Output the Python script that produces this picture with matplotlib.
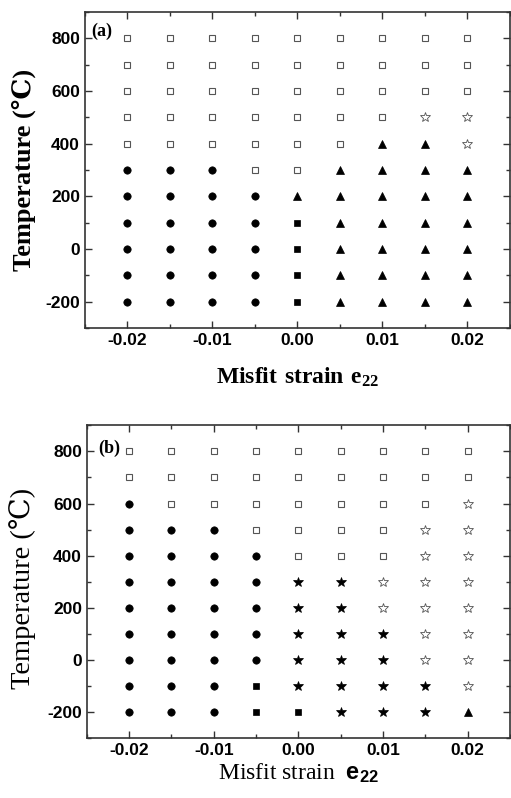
import numpy as np
import matplotlib
matplotlib.use("Agg")
import matplotlib.pyplot as plt
from matplotlib.ticker import MultipleLocator

plt.rcParams["mathtext.fontset"] = "custom"
plt.rcParams["mathtext.bf"] = "Liberation Serif:bold"
plt.rcParams["mathtext.rm"] = "Liberation Serif"
plt.rcParams["mathtext.sf"] = "Liberation Sans:bold"
plt.rcParams["axes.unicode_minus"] = False

# misfit strain columns and temperature rows
strain = [-0.02, -0.015, -0.01, -0.005, 0.0, 0.005, 0.01, 0.015, 0.02]
temps = [800, 700, 600, 500, 400, 300, 200, 100, 0, -100, -200]

# phase codes per row (top = 800 C):
# O open square, c circle, s filled square, t triangle, S open star, k filled star
phases_a = [
    "OOOOOOOOO",
    "OOOOOOOOO",
    "OOOOOOOOO",
    "OOOOOOOSS",
    "OOOOOOttS",
    "cccOOtttt",
    "cccctttt t".replace(" ", ""),
    "ccccstttt",
    "ccccstttt",
    "ccccstttt",
    "ccccstttt",
]
phases_b = [
    "OOOOOOOOO",
    "OOOOOOOOO",
    "cOOOOOOOS",
    "cccOOOOSS",
    "ccccOOOSS",
    "cccckkSSS",
    "cccckkSSS",
    "cccckkkSS",
    "cccckkkSS",
    "cccskkkkS",
    "cccsskkkt",
]

styles = {
    "O": dict(marker="s", ms=4.3, mfc="white", mec="#555555", mew=0.8),
    "c": dict(marker="o", ms=5.3, mfc="black", mec="black", mew=0.5),
    "s": dict(marker="s", ms=4.5, mfc="black", mec="black", mew=0.5),
    "t": dict(marker="^", ms=5.7, mfc="black", mec="black", mew=0.5),
    "S": dict(marker="*", ms=7.0, mfc="white", mec="#555555", mew=0.6),
    "k": dict(marker="*", ms=7.0, mfc="black", mec="black", mew=0.5),
}


def draw_panel(ax, phases):
    for code, st in styles.items():
        xs, ys = [], []
        for i, row in enumerate(phases):
            for j, ch in enumerate(row):
                if ch == code:
                    xs.append(strain[j])
                    ys.append(temps[i])
        ax.plot(xs, ys, ls="none", **st)
    ax.set_xlim(-0.025, 0.025)
    ax.set_ylim(-300, 900)
    ax.xaxis.set_major_locator(MultipleLocator(0.01))
    ax.xaxis.set_minor_locator(MultipleLocator(0.005))
    ax.yaxis.set_major_locator(MultipleLocator(200))
    ax.yaxis.set_minor_locator(MultipleLocator(100))
    ax.set_xticks([-0.02, -0.01, 0.0, 0.01, 0.02])
    ax.set_xticklabels(["-0.02", "-0.01", "0.00", "0.01", "0.02"])
    ax.tick_params(which="both", direction="in", top=True, right=True,
                   colors="#333333", labelcolor="black")
    ax.tick_params(which="major", length=5, width=1.0)
    ax.tick_params(which="minor", length=3, width=1.0)
    for lab in ax.get_xticklabels() + ax.get_yticklabels():
        lab.set_fontfamily("Liberation Sans")
        lab.set_fontweight("bold")
        lab.set_fontsize(12.5)
    for sp in ax.spines.values():
        sp.set_linewidth(1.2)
        sp.set_color("#333333")


fig = plt.figure(figsize=(5.11, 7.98), dpi=100)
ax1 = fig.add_axes([0.166, 0.589, 0.832, 0.396])
ax2 = fig.add_axes([0.170, 0.075, 0.828, 0.392])

draw_panel(ax1, phases_a)
draw_panel(ax2, phases_b)

serif = ["Liberation Serif", "DejaVu Serif", "Noto Sans CJK SC"]

ax1.set_ylabel("Temperature (℃)", family=serif, fontweight="bold", fontsize=19)
ax1.yaxis.set_label_coords(-0.115, 0.5)
ax1.set_xlabel(r"$\mathbf{Misfit\ strain\ e_{22}}$", fontsize=17, labelpad=12)
ax1.text(0.016, 0.965, "(a)", transform=ax1.transAxes, ha="left", va="top",
         family="Liberation Serif", fontweight="bold", fontsize=13)

ax2.set_ylabel("Temperature (℃)", family=serif, fontsize=20.5)
ax2.yaxis.set_label_coords(-0.12, 0.48)
ax2.set_xlabel(r"Misfit strain  $\mathsf{e_{22}}$", family="Liberation Serif",
               fontsize=17, labelpad=2)
ax2.text(0.026, 0.955, "(b)", transform=ax2.transAxes, ha="left", va="top",
         family="Liberation Serif", fontweight="bold", fontsize=13)

fig.savefig("out.png", dpi=100)
